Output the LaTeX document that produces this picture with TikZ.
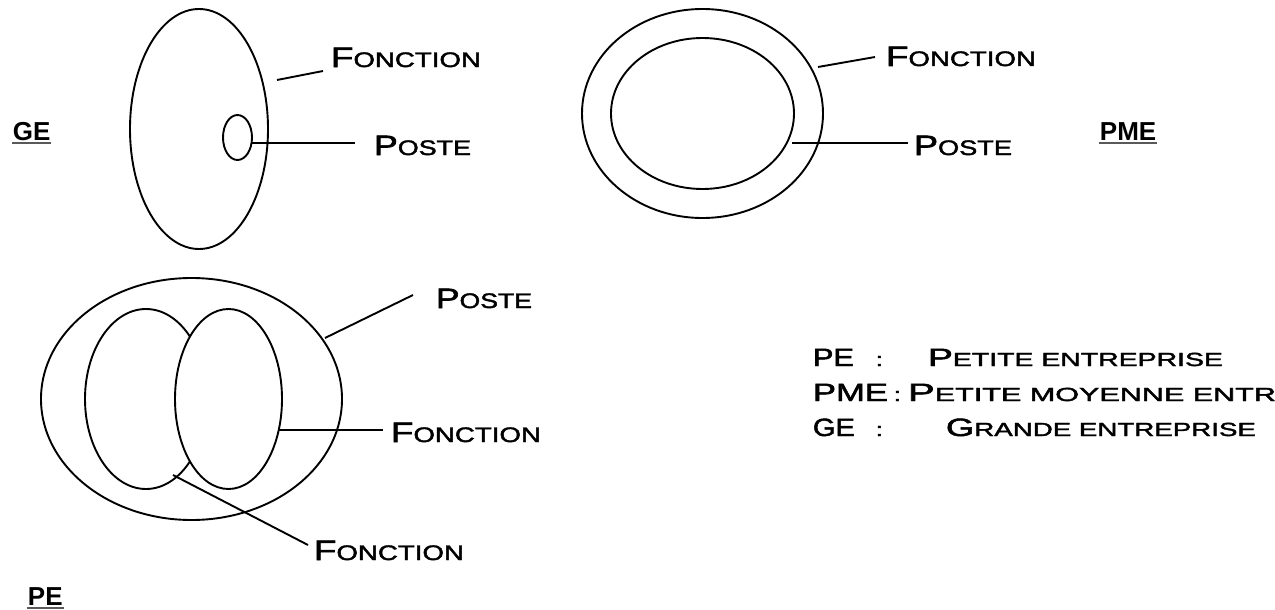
\documentclass[tikz,border=0pt]{standalone}
\usepackage{fontspec}
\usepackage{graphicx}
\usetikzlibrary{shapes.geometric}
\setmainfont{Liberation Sans}
\newfontfamily\cpfont[FakeBold=1.8]{Liberation Sans}
\newsavebox\cpbox
% fake small caps: #1 big size, #2 small size, #3 initial, #4 rest
\newcommand\cpw[4]{{\fontsize{#1}{#1}\selectfont #3\fontsize{#2}{#2}\selectfont #4}}
% scale horizontally so that the text is #1 pt wide
\newcommand\fitto[2]{\sbox\cpbox{#2}\scalebox{\fpeval{#1/\the\wd\cpbox}}[1]{\usebox\cpbox}}
% scale #3 horizontally by the factor that makes #2 #1 pt wide
\newcommand\fitlike[3]{\sbox\cpbox{#2}\edef\cptmp{\fpeval{#1/\the\wd\cpbox}}\scalebox{\cptmp}[1]{#3}}
\newcommand\fonc{\cpw{28pt}{21pt}{F}{ONCTION}}
\newcommand\post{\cpw{28pt}{21pt}{P}{OSTE}}
\begin{document}
\begin{tikzpicture}[x=1pt,y=-1pt,line width=1.9pt,
  ell/.style={ellipse,draw,inner sep=0pt,outer sep=0pt},
  wht/.style={ellipse,draw,fill=white,inner sep=0pt,outer sep=0pt},
  lbl/.style={anchor=base west,inner sep=0pt,font=\cpfont},
  abbr/.style={anchor=base west,inner sep=0pt,font=\bfseries\fontsize{26pt}{26pt}\selectfont},
  uline/.style={line width=1.5pt,draw=black!65},
  conn/.style={line width=1.9pt}]
\useasboundingbox (0,0) rectangle (1275,610);
\clip (0,0) rectangle (1275,610);

% ---------- GE ----------
\node[ell,minimum width=138pt,minimum height=240pt] (geF) at (199,129) {};
\node[ell,minimum width=29pt,minimum height=45pt] (geP) at (237.5,137.5) {};
\node[lbl] (geFl) at (330,67) {\fitto{150}{\fonc}};
\node[lbl] (gePl) at (373,155) {\fitto{97}{\post}};
\coordinate (geFa) at (277,80);
\coordinate (geFb) at (323,71);
\coordinate (gePa) at (252,143);
\coordinate (gePb) at (355,143);
\draw[conn] (geFa) -- (geFb);
\draw[conn] (gePa) -- (gePb);
\node[abbr] (ge) at (12,140) {GE};
\draw[uline] ([yshift=-3pt]ge.base west) -- ([yshift=-3pt]ge.base east);

% ---------- PME ----------
\node[ell,minimum width=241pt,minimum height=209pt] (pmeF) at (702.5,113.5) {};
\node[ell,minimum width=183pt,minimum height=151pt] (pmeP) at (702.5,113.5) {};
\node[lbl] (pmeFl) at (885,66) {\fitto{150}{\fonc}};
\node[lbl] (pmePl) at (913,155) {\fitto{98}{\post}};
\coordinate (pmeFa) at (818,67);
\coordinate (pmeFb) at (875,57);
\coordinate (pmePa) at (792,143);
\coordinate (pmePb) at (908,143);
\draw[conn] (pmeFa) -- (pmeFb);
\draw[conn] (pmePa) -- (pmePb);
\node[abbr] (pme) at (1099,140) {PME};
\draw[uline] ([yshift=-3pt]pme.base west) -- ([yshift=-3pt]pme.base east);

% ---------- PE ----------
\node[ell,minimum width=301pt,minimum height=242pt] (peP) at (191.5,399) {};
\node[ell,minimum width=122pt,minimum height=180pt] (peF1) at (146,399) {};
\node[wht,minimum width=107pt,minimum height=180pt] (peF2) at (228.5,399) {};
\node[lbl] (pePl) at (435,308) {\fitto{96}{\post}};
\node[lbl] (peF2l) at (390,442) {\fitto{150}{\fonc}};
\node[lbl] (peF1l) at (313,560) {\fitto{150}{\fonc}};
\coordinate (pePa) at (325,338);
\coordinate (pePb) at (413,295);
\coordinate (peF2a) at (278,430);
\coordinate (peF2b) at (383,430);
\coordinate (peF1a) at (173,475);
\coordinate (peF1b) at (308,545);
\draw[conn] (pePa) -- (pePb);
\draw[conn] (peF2a) -- (peF2b);
\draw[conn] (peF1a) -- (peF1b);
\node[abbr] (pe) at (27,605) {PE};
\draw[uline] ([yshift=-3pt]pe.base west) -- ([yshift=-3pt]pe.base east);

% ---------- legend ----------
\node[lbl] (k1) at (812,366) {\fitto{41}{\fontsize{25pt}{25pt}\selectfont PE}};
\node[lbl] (c1) at (875,366) {\scalebox{1.3}[1]{\fontsize{19pt}{19pt}\selectfont :}};
\node[lbl] (d1) at (927,366) {\fitto{295}{\cpw{25pt}{19pt}{P}{ETITE ENTREPRISE}}};
\node[lbl] (k2) at (812,401) {\fitto{75}{\fontsize{25pt}{25pt}\selectfont PME}};
\node[lbl] (c2) at (893,401) {\scalebox{1.3}[1]{\fontsize{19pt}{19pt}\selectfont :}};
\node[lbl] (d2) at (907,401) {\fitlike{368}{\cpw{25pt}{19pt}{P}{ETITE MOYENNE ENTR}}{\cpw{25pt}{19pt}{P}{ETITE MOYENNE ENTREPRISE}}};
\node[lbl] (k3) at (812,436) {\fitto{42}{\fontsize{25pt}{25pt}\selectfont GE}};
\node[lbl] (c3) at (875,436) {\scalebox{1.3}[1]{\fontsize{19pt}{19pt}\selectfont :}};
\node[lbl] (d3) at (945,436) {\fitto{310}{\cpw{25pt}{19pt}{G}{RANDE ENTREPRISE}}};
\end{tikzpicture}
\end{document}
